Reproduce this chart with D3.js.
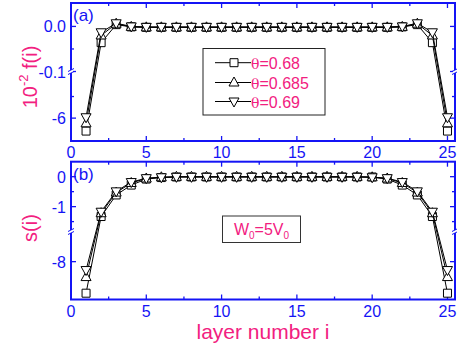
<!DOCTYPE html>
<html>
<head>
<meta charset="utf-8">
<script src="https://cdn.jsdelivr.net/npm/d3@7"></script>
<style>
  body { margin: 0; background: #fff; }
  svg { display: block; font-family: "Liberation Sans", Arial, sans-serif; }
</style>
</head>
<body>
<svg id="chart" width="457" height="347"></svg>
<script>
// layer index
const layers = d3.range(1, 26);

// panel (a): 10^-2 f(i) for three theta values
const fSquare = [-6.30, -0.036, 0.004, -0.001, -0.002, -0.002, -0.002, -0.002, -0.002, -0.002, -0.002, -0.002, -0.002,
                 -0.002, -0.002, -0.002, -0.002, -0.002, -0.002, -0.002, -0.002, -0.001, 0.004, -0.036, -6.30];
const fUp     = [-6.12, -0.020, 0.006, -0.001, -0.002, -0.002, -0.002, -0.002, -0.002, -0.002, -0.002, -0.002, -0.002,
                 -0.002, -0.002, -0.002, -0.002, -0.002, -0.002, -0.002, -0.002, -0.001, 0.006, -0.020, -6.12];
const fDown   = [-5.98, -0.013, 0.007, 0.000, -0.001, -0.001, -0.001, -0.001, -0.001, -0.001, -0.001, -0.001, -0.001,
                 -0.001, -0.001, -0.001, -0.001, -0.001, -0.001, -0.001, -0.001, 0.000, 0.007, -0.013, -5.98];

// panel (b): s(i)
const sSquare = [-8.45, -1.33, -0.61, -0.28, -0.08, -0.03, -0.01, -0.01, -0.01, -0.01, -0.01, -0.01, -0.01,
                 -0.01, -0.01, -0.01, -0.01, -0.01, -0.01, -0.01, -0.08, -0.28, -0.61, -1.33, -8.45];
const sUp     = [-8.22, -1.22, -0.53, -0.21, -0.06, -0.02, -0.005, -0.005, -0.005, -0.005, -0.005, -0.005, -0.005,
                 -0.005, -0.005, -0.005, -0.005, -0.005, -0.005, -0.02, -0.06, -0.21, -0.53, -1.22, -8.22];
const sDown   = [-8.12, -1.17, -0.49, -0.18, -0.05, -0.02, -0.005, -0.005, -0.005, -0.005, -0.005, -0.005, -0.005,
                 -0.005, -0.005, -0.005, -0.005, -0.005, -0.005, -0.02, -0.05, -0.18, -0.49, -1.17, -8.12];

const legendLabels = ["=0.68", "=0.685", "=0.69"];
const xTicks = [0, 5, 10, 15, 20, 25];
const xMinor = [2.5, 7.5, 12.5, 17.5, 22.5];

const BLUE = "#1414f5";
const PINK = "#f2207f";

const svg = d3.select("#chart");
const x = d3.scaleLinear().domain([0, 25.5]).range([71, 455]);

// each panel has a y axis broken into an upper and a lower segment
const panels = [
  {
    top: 3, bottom: 141, brk: 71.5, split: -0.1,
    upper: d3.scaleLinear().domain([-0.1, 0.052]).range([71.5, 3]),
    lower: d3.scaleLinear().domain([-6.53, -4.92]).range([141, 71.5]),
    majorU: [{v: 0, t: "0.0"}, {v: -0.1, t: "-0.1"}], minorU: [-0.05],
    majorL: [{v: -6, t: "-6"}], minorL: [-5.5],
    series: [fSquare, fUp, fDown], tag: "(a)", tagY: 21
  },
  {
    top: 161.7, bottom: 299.5, brk: 231.5, split: -1.83,
    upper: d3.scaleLinear().domain([-1.83, 0.5]).range([231.5, 161.7]),
    lower: d3.scaleLinear().domain([-8.54, -7.57]).range([299.5, 231.5]),
    majorU: [{v: 0, t: "0"}, {v: -1, t: "-1"}], minorU: [-0.5, -1.5],
    majorL: [{v: -8, t: "-8"}], minorL: [],
    series: [sSquare, sUp, sDown], tag: "(b)", tagY: 180
  }
];

const shapes = ["square", "up", "down"];
function markerPath(kind) {
  if (kind === "square") return "M-4,-4H4V4H-4Z";
  if (kind === "up") return "M0,-5.5L5,3.5H-5Z";
  return "M0,5.5L5,-3.5H-5Z";
}

panels.forEach(p => {
  const y = v => (v >= p.split ? p.upper(v) : p.lower(v));
  const L = 71, R = 455;
  const g = svg.append("g");

  // frame
  g.append("rect").attr("x", L).attr("y", p.top).attr("width", R - L).attr("height", p.bottom - p.top)
    .attr("fill", "none").attr("stroke", BLUE).attr("stroke-width", 2);

  // x ticks (bottom and top, pointing inward)
  xTicks.forEach(t => {
    g.append("line").attr("x1", x(t)).attr("x2", x(t)).attr("y1", p.bottom).attr("y2", p.bottom - 5).attr("stroke", BLUE).attr("stroke-width", 1.3);
    g.append("line").attr("x1", x(t)).attr("x2", x(t)).attr("y1", p.top).attr("y2", p.top + 5).attr("stroke", BLUE).attr("stroke-width", 1.3);
    g.append("text").attr("x", x(t)).attr("y", p.bottom + 17).attr("text-anchor", "middle")
      .attr("font-size", 16).attr("fill", BLUE).text(t);
  });
  xMinor.forEach(t => {
    g.append("line").attr("x1", x(t)).attr("x2", x(t)).attr("y1", p.bottom).attr("y2", p.bottom - 3).attr("stroke", BLUE).attr("stroke-width", 1.3);
    g.append("line").attr("x1", x(t)).attr("x2", x(t)).attr("y1", p.top).attr("y2", p.top + 3).attr("stroke", BLUE).attr("stroke-width", 1.3);
  });

  // y ticks on both sides
  const yMajor = p.majorU.map(d => ({y: p.upper(d.v), t: d.t})).concat(p.majorL.map(d => ({y: p.lower(d.v), t: d.t})));
  const yMinor = p.minorU.map(v => p.upper(v)).concat(p.minorL.map(v => p.lower(v)));
  yMajor.forEach(d => {
    g.append("line").attr("x1", L).attr("x2", L + 5).attr("y1", d.y).attr("y2", d.y).attr("stroke", BLUE).attr("stroke-width", 1.3);
    g.append("line").attr("x1", R).attr("x2", R - 5).attr("y1", d.y).attr("y2", d.y).attr("stroke", BLUE).attr("stroke-width", 1.3);
    g.append("text").attr("x", L - 5).attr("y", d.y + 6).attr("text-anchor", "end")
      .attr("font-size", 16).attr("fill", BLUE).text(d.t);
  });
  yMinor.forEach(yy => {
    g.append("line").attr("x1", L).attr("x2", L + 3).attr("y1", yy).attr("y2", yy).attr("stroke", BLUE).attr("stroke-width", 1.3);
    g.append("line").attr("x1", R).attr("x2", R - 3).attr("y1", yy).attr("y2", yy).attr("stroke", BLUE).attr("stroke-width", 1.3);
  });

  // axis break marks
  [L, R].forEach(ax => {
    g.append("rect").attr("x", ax - 2).attr("y", p.brk - 1.5).attr("width", 4).attr("height", 3).attr("fill", "#fff");
    [-1.5, 1.5].forEach(o => {
      g.append("line").attr("x1", ax - 3).attr("x2", ax + 3).attr("y1", p.brk + o + 1.5).attr("y2", p.brk + o - 1.5)
        .attr("stroke", BLUE).attr("stroke-width", 1);
    });
  });

  // panel tag
  g.append("text").attr("x", 73).attr("y", p.tagY).attr("font-size", 17).attr("fill", BLUE).text(p.tag);

  // series: line then open markers
  p.series.forEach((vals, k) => {
    const pts = vals.map((v, i) => [x(layers[i]), y(v)]);
    g.append("path").attr("d", d3.line()(pts)).attr("fill", "none").attr("stroke", "#000").attr("stroke-width", 1);
    g.selectAll(null).data(pts).enter().append("path")
      .attr("transform", d => `translate(${d[0]},${d[1]})`)
      .attr("d", markerPath(shapes[k]))
      .attr("fill", "#fff").attr("stroke", "#000").attr("stroke-width", 1);
  });
});

// y axis titles
const t1 = svg.append("text").attr("transform", "translate(37,77) rotate(-90)").attr("text-anchor", "middle")
  .attr("font-size", 20).attr("fill", PINK);
t1.append("tspan").text("10");
t1.append("tspan").attr("font-size", 13).attr("dy", -9).text("-2");
t1.append("tspan").attr("dy", 9).text(" f(i)");

svg.append("text").attr("transform", "translate(37,228) rotate(-90)").attr("text-anchor", "middle")
  .attr("font-size", 20).attr("fill", PINK).text("s(i)");

// x axis title
svg.append("text").attr("x", 263).attr("y", 339).attr("text-anchor", "middle")
  .attr("font-size", 21).attr("fill", PINK).text("layer number i");

// legend
const lg = svg.append("g");
lg.append("rect").attr("x", 203).attr("y", 48.5).attr("width", 122).attr("height", 66.5)
  .attr("fill", "#fff").attr("stroke", "#222").attr("stroke-width", 1);
const rowY = [62.7, 82.5, 101.5];
legendLabels.forEach((lab, k) => {
  const yy = rowY[k];
  lg.append("line").attr("x1", 215).attr("x2", 251).attr("y1", yy).attr("y2", yy).attr("stroke", "#000");
  lg.append("path").attr("transform", `translate(234,${yy})`).attr("d", markerPath(shapes[k]))
    .attr("fill", "#fff").attr("stroke", "#000");
  const tx = lg.append("text").attr("x", 251).attr("y", yy + 6).attr("font-size", 16).attr("fill", PINK);
  tx.append("tspan").attr("font-family", "DejaVu Serif").attr("font-size", 14).text("θ");
  tx.append("tspan").text(lab);
});

// W0 = 5V0 box
svg.append("rect").attr("x", 222.5).attr("y", 216).attr("width", 78).attr("height", 26.5)
  .attr("fill", "#fff").attr("stroke", "#333").attr("stroke-width", 1);
const wt = svg.append("text").attr("x", 261.5).attr("y", 235).attr("text-anchor", "middle")
  .attr("font-size", 16).attr("fill", PINK);
wt.append("tspan").text("W");
wt.append("tspan").attr("font-size", 10).attr("dy", 4).text("0");
wt.append("tspan").attr("dy", -4).text("=5V");
wt.append("tspan").attr("font-size", 10).attr("dy", 4).text("0");
</script>
</body>
</html>
